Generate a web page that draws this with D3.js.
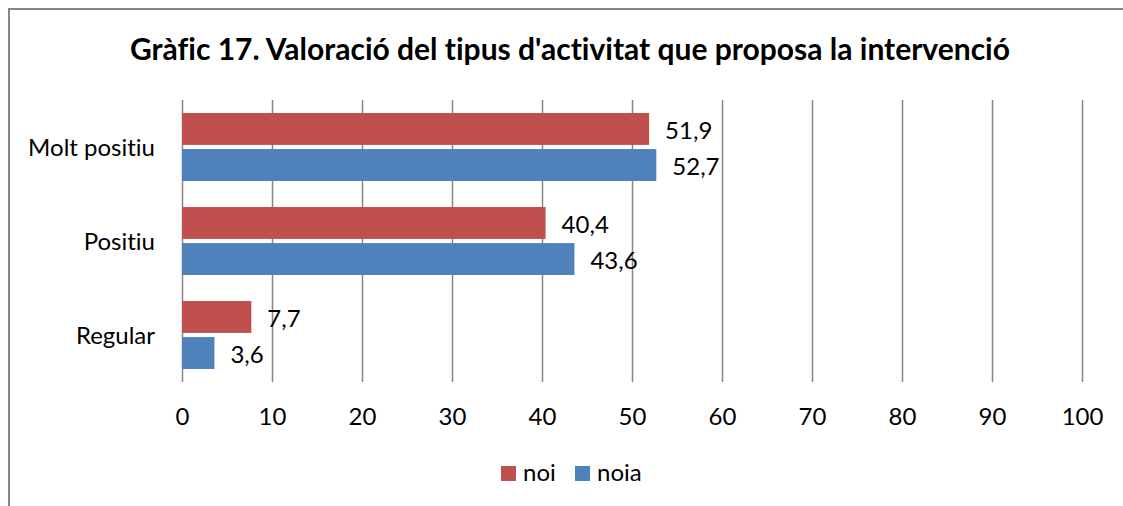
<!DOCTYPE html>
<html><head><meta charset="utf-8">
<script src="https://cdn.jsdelivr.net/npm/d3@7"></script>
<style>body{margin:0;background:#fff}svg{display:block}text{font-variant-ligatures:none;font-feature-settings:"liga" 0,"clig" 0}</style>
</head><body>
<script>
const categories = ["Molt positiu", "Positiu", "Regular"];
const seriesNames = ["noi", "noia"];
const noi = [51.9, 40.4, 7.7];
const noia = [52.7, 43.6, 3.6];
const ticks = [0,10,20,30,40,50,60,70,80,90,100];
const colors = ["#C0504D", "#4F81BD"];
const title = "Gràfic 17. Valoració del tipus d'activitat que proposa la intervenció";

const W = 1123, H = 506;
const font = "Lato, 'Open Sans', sans-serif";
const FS = 24;
const capOff = 0.358 * FS;
const svg = d3.select("body").append("svg").attr("width", W).attr("height", H);

// frame (cropped on right and bottom)
svg.append("path").attr("d", `M9,${H+2} V9 H${W+2}`).attr("fill","none").attr("stroke","#868686").attr("stroke-width",2);

const x = d3.scaleLinear().domain([0,100]).range([182,1082]);
const y = d3.scaleBand().domain(categories).range([100,382]).paddingInner(0.277).paddingOuter(0.1385);
const ys = d3.scaleBand().domain(seriesNames).range([0, y.bandwidth()]).paddingInner(0.115);

svg.append("text").attr("x", 570).attr("y", 60).attr("text-anchor","middle")
  .attr("font-family", font).attr("font-weight","bold").attr("font-size", 30).attr("fill","#000").text(title);

// gridlines
const xAxis = d3.axisBottom(x).tickValues(ticks).tickSize(282).tickFormat(d=>d);
const gx = svg.append("g").attr("transform","translate(0,100)").call(xAxis);
gx.select(".domain").remove();
gx.selectAll(".tick line").attr("stroke","#868686").attr("stroke-width",1.5);
gx.selectAll(".tick text").attr("y", 325).attr("dy", null).attr("font-family",font).attr("font-size",FS).attr("fill","#000");

// category labels
const yAxis = d3.axisLeft(y).tickSize(0).tickPadding(0);
const gy = svg.append("g").attr("transform","translate(155,0)").call(yAxis);
gy.select(".domain").remove();
gy.selectAll(".tick text").attr("dy", null).attr("y", capOff).attr("font-family",font).attr("font-size",FS).attr("fill","#000");

const data = categories.map((c,i)=>({c, vals:[{s:"noi",v:noi[i],col:colors[0]},{s:"noia",v:noia[i],col:colors[1]}]}));
const g = svg.selectAll("g.cat").data(data).enter().append("g").attr("class","cat")
  .attr("transform", d=>`translate(0,${y(d.c)})`);
g.selectAll("rect").data(d=>d.vals).enter().append("rect")
  .attr("x", x(0)).attr("y", d=>ys(d.s)).attr("width", d=>x(d.v)-x(0)).attr("height", ys.bandwidth())
  .attr("fill", d=>d.col);
g.selectAll("text.val").data(d=>d.vals).enter().append("text").attr("class","val")
  .attr("x", d=>x(d.v)+16).attr("y", d=>ys(d.s)+ys.bandwidth()/2+capOff+1)
  .attr("font-family",font).attr("font-size",FS).attr("fill","#000")
  .text(d=>d3.format(".1f")(d.v).replace(".",","));

// legend
const lg = svg.append("g");
const legX = [501, 575];
seriesNames.forEach((s,i)=>{
  lg.append("rect").attr("x",legX[i]).attr("y",466).attr("width",15).attr("height",15).attr("fill",colors[i]);
  lg.append("text").attr("x",legX[i]+22).attr("y",481)
    .attr("font-family",font).attr("font-size",FS).attr("fill","#000").text(s);
});
</script>
</body></html>
